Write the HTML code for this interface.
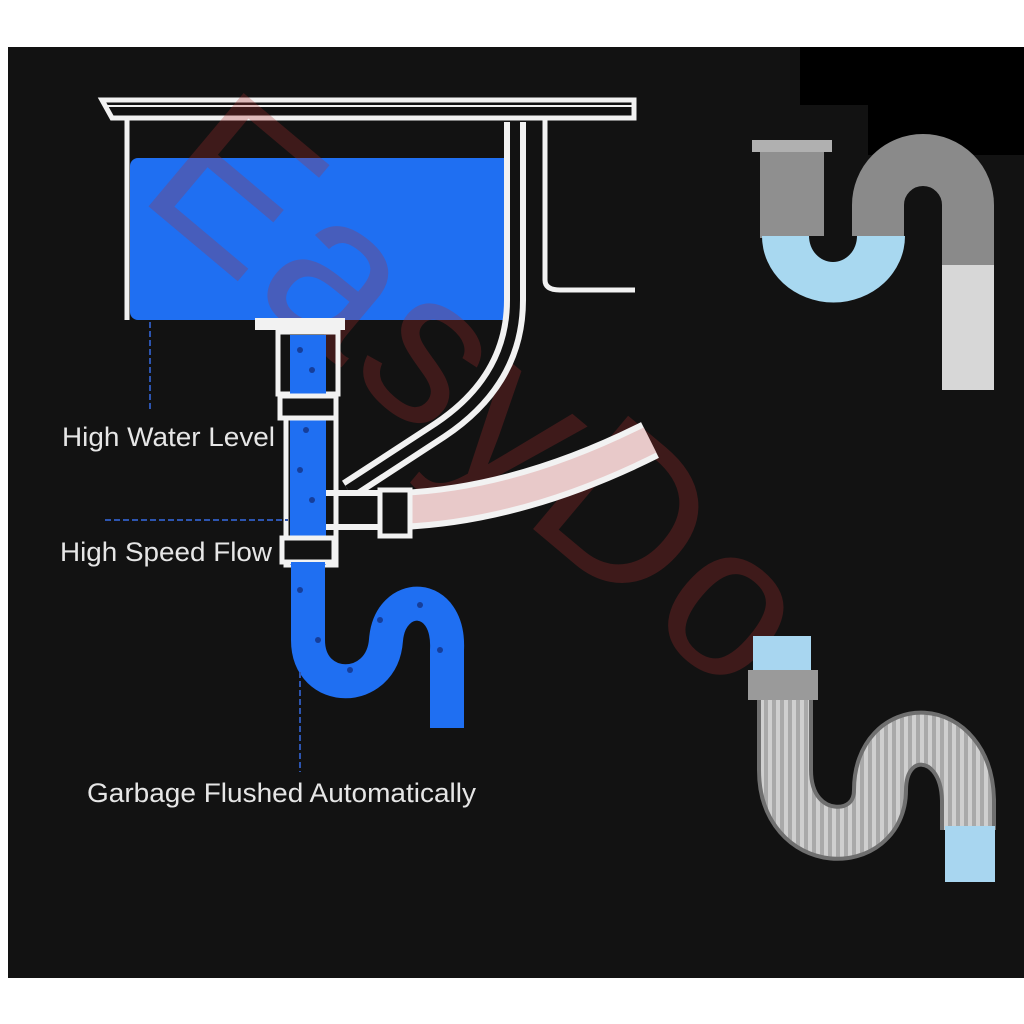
<!DOCTYPE html>
<html><head><meta charset="utf-8"><style>
html,body{margin:0;padding:0;background:#fff;}
svg{display:block}
text{font-family:"Liberation Sans",sans-serif}
</style></head><body>
<svg width="1024" height="1024" viewBox="0 0 1024 1024" xmlns="http://www.w3.org/2000/svg">
<defs>
<pattern id="corr" width="8" height="8" patternUnits="userSpaceOnUse">
<rect width="8" height="8" fill="#a9a9a9"/><rect width="4" height="8" fill="#cfcfcf"/>
</pattern>
</defs>
<rect x="8" y="47" width="1016" height="931" fill="#121212"/>
<rect x="800" y="47" width="224" height="58" fill="#000"/>
<rect x="868" y="100" width="156" height="55" fill="#000"/>

<!-- sink -->
<g fill="none" stroke="#f2f2f2" stroke-width="5">
<path d="M102,100 H634 V118 H112 Z"/>
<line x1="104" y1="106" x2="632" y2="106" stroke-width="2"/>
<line x1="127" y1="118" x2="127" y2="320"/>
<path d="M545,118 V280 Q545,290 560,290 H635"/>
</g>
<rect x="130" y="158" width="382" height="162" rx="8" fill="#1f6ff2"/>

<!-- watermark (translucent overlay) -->
<g fill="#b03030" fill-opacity="0.28">
<text x="0" y="0" font-size="215" transform="translate(135,195) rotate(40)" letter-spacing="6">EasyDo</text>
</g>

<rect x="255" y="318" width="90" height="12" fill="#f2f2f2"/>
<!-- overflow pipe -->
<path d="M515,122 V300 Q515,380 440,430 L348,490" fill="none" stroke="#f2f2f2" stroke-width="22"/>
<path d="M515,122 V300 Q515,380 440,430 L348,490" fill="none" stroke="#121212" stroke-width="10"/>
<!-- horizontal branch hose -->
<path d="M320,510 H400 Q520,505 650,440" fill="none" stroke="#f2f2f2" stroke-width="40"/>
<path d="M320,510 H400 Q520,505 650,440" fill="none" stroke="#e8c9c9" stroke-width="28"/>
<path d="M320,510 H395" fill="none" stroke="#121212" stroke-width="28"/>
<rect x="380" y="490" width="30" height="46" fill="#121212" stroke="#f2f2f2" stroke-width="5"/>
<!-- drain vertical -->
<rect x="278" y="332" width="60" height="62" fill="none" stroke="#f2f2f2" stroke-width="5"/>
<rect x="286" y="395" width="50" height="170" fill="none" stroke="#f2f2f2" stroke-width="5"/>
<rect x="290" y="335" width="36" height="230" fill="#1f6ff2"/>
<rect x="280" y="396" width="56" height="22" fill="#121212" stroke="#f2f2f2" stroke-width="5"/>
<rect x="282" y="538" width="52" height="24" fill="#121212" stroke="#f2f2f2" stroke-width="5"/>
<!-- S trap -->
<path d="M308,562 V640 C308,695 382,695 386,640 C390,590 450,590 447,650 V728" fill="none" stroke="#1f6ff2" stroke-width="34"/>
<g fill="#163e9a">
<circle cx="300" cy="350" r="3"/><circle cx="312" cy="370" r="3"/><circle cx="306" cy="430" r="3"/><circle cx="300" cy="470" r="3"/><circle cx="312" cy="500" r="3"/><circle cx="300" cy="590" r="3"/><circle cx="318" cy="640" r="3"/><circle cx="350" cy="670" r="3"/><circle cx="380" cy="620" r="3"/><circle cx="420" cy="605" r="3"/><circle cx="440" cy="650" r="3"/>
</g>

<!-- dashed guides -->
<g stroke="#2d55b0" stroke-width="2" stroke-dasharray="6,3" fill="none">
<line x1="150" y1="322" x2="150" y2="410"/>
<line x1="105" y1="520" x2="288" y2="520"/>
<line x1="300" y1="672" x2="300" y2="772"/>
</g>

<g fill="#e6e6e6" font-size="27">
<text x="62" y="446" textLength="213" lengthAdjust="spacingAndGlyphs">High Water Level</text>
<text x="60" y="561" textLength="212" lengthAdjust="spacingAndGlyphs">High Speed Flow</text>
<text x="87" y="802" textLength="389" lengthAdjust="spacingAndGlyphs">Garbage Flushed Automatically</text>
</g>

<!-- P-trap top right -->
<path d="M878,236 V205 A45,45 0 0 1 968,205 V266" fill="none" stroke="#8a8a8a" stroke-width="52"/>
<rect x="942" y="265" width="52" height="125" fill="#d7d7d7"/>
<rect x="760" y="148" width="64" height="90" fill="#8f8f8f"/>
<rect x="752" y="140" width="80" height="12" fill="#b0b0b0"/>
<path d="M762,236 H905 A71,66 0 0 1 762,236 Z" fill="#a8d8f0"/>
<path d="M809,236 A24,26 0 0 0 857,236 Z" fill="#121212"/>

<!-- flexible trap -->
<rect x="753" y="636" width="58" height="35" fill="#a8d6f0"/>
<rect x="748" y="670" width="70" height="30" fill="#9a9a9a"/>
<path d="M785,700 V770 C785,850 880,850 880,790 C880,720 966,720 968,800 V830" fill="none" stroke="#6f6f6f" stroke-width="56"/>
<path d="M785,700 V770 C785,850 880,850 880,790 C880,720 966,720 968,800 V830" fill="none" stroke="url(#corr)" stroke-width="48"/>
<rect x="945" y="826" width="50" height="56" fill="#a8d6f0"/>
</svg>
</body></html>
